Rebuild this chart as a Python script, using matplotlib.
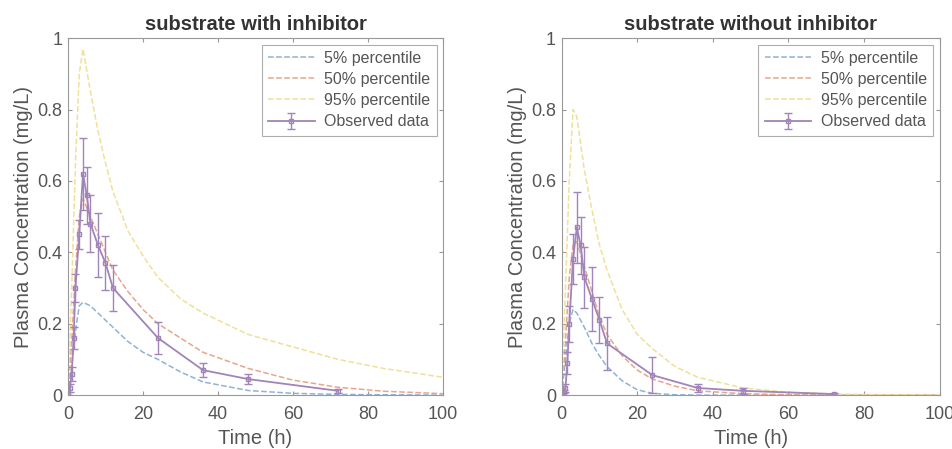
import matplotlib.pyplot as plt

plt.rcParams['font.family'] = ['Liberation Sans', 'DejaVu Sans']

# observed sampling times (h)
obs_t = [0, 0.5, 1, 1.5, 2, 3, 4, 5, 6, 8, 10, 12, 24, 36, 48, 72]

# substrate with inhibitor
inh_obs = [0.0, 0.02, 0.06, 0.16, 0.30, 0.45, 0.62, 0.56, 0.48, 0.42, 0.37, 0.30, 0.16, 0.07, 0.045, 0.012]
inh_sd = [0.0, 0.01, 0.02, 0.03, 0.04, 0.04, 0.10, 0.08, 0.08, 0.09, 0.075, 0.065, 0.045, 0.02, 0.015, 0.005]

# substrate without inhibitor
no_obs = [0.0, 0.01, 0.02, 0.09, 0.20, 0.38, 0.47, 0.42, 0.33, 0.27, 0.21, 0.145, 0.056, 0.02, 0.012, 0.003]
no_sd = [0.0, 0.005, 0.01, 0.03, 0.05, 0.07, 0.10, 0.08, 0.085, 0.09, 0.065, 0.075, 0.05, 0.01, 0.008, 0.002]

# simulated percentiles
sim_t = [0, 1, 2, 3, 4, 6, 8, 10, 12, 16, 20, 24, 30, 36, 48, 60, 72, 84, 100]
inh_p5 = [0, 0.08, 0.18, 0.25, 0.26, 0.25, 0.23, 0.21, 0.19, 0.15, 0.12, 0.10, 0.065, 0.037, 0.013, 0.005, 0.002, 0.001, 0.0]
inh_p50 = [0, 0.15, 0.35, 0.50, 0.55, 0.50, 0.45, 0.40, 0.35, 0.29, 0.24, 0.20, 0.16, 0.12, 0.075, 0.042, 0.022, 0.011, 0.004]
inh_p95 = [0, 0.30, 0.65, 0.90, 0.97, 0.85, 0.74, 0.65, 0.57, 0.46, 0.39, 0.33, 0.27, 0.23, 0.17, 0.135, 0.10, 0.075, 0.05]

no_p5 = [0, 0.10, 0.20, 0.24, 0.23, 0.19, 0.145, 0.11, 0.08, 0.04, 0.015, 0.005, 0.001, 0.0, 0.0, 0.0, 0.0, 0.0, 0.0]
no_p50 = [0, 0.15, 0.33, 0.42, 0.43, 0.36, 0.29, 0.22, 0.17, 0.11, 0.07, 0.045, 0.025, 0.012, 0.004, 0.001, 0.0, 0.0, 0.0]
no_p95 = [0, 0.30, 0.60, 0.80, 0.78, 0.63, 0.52, 0.42, 0.35, 0.24, 0.17, 0.13, 0.08, 0.05, 0.02, 0.008, 0.003, 0.001, 0.0]

titles = ['substrate with inhibitor', 'substrate without inhibitor']

c5 = '#8fb3d6'
c50 = '#e9a58c'
c95 = '#efe09a'
cobs = '#a184b8'
grey = '#555555'

fig = plt.figure(figsize=(9.52, 4.49), dpi=100)
ax1 = fig.add_axes([0.0714, 0.120, 0.394, 0.795])
ax2 = fig.add_axes([0.590, 0.120, 0.397, 0.795])

panels = [
    (ax1, inh_p5, inh_p50, inh_p95, inh_obs, inh_sd),
    (ax2, no_p5, no_p50, no_p95, no_obs, no_sd),
]

for i, (ax, p5, p50, p95, obs, sd) in enumerate(panels):
    ax.plot(sim_t, p5, '--', color=c5, lw=1.1, label='5% percentile')
    ax.plot(sim_t, p50, '--', color=c50, lw=1.1, label='50% percentile')
    ax.plot(sim_t, p95, '--', color=c95, lw=1.1, label='95% percentile')
    ax.errorbar(obs_t, obs, yerr=sd, color=cobs, lw=1.3, elinewidth=1.0,
                capsize=3, marker='s', ms=3, mfc='none', label='Observed data')
    ax.set_xlim(0, 100)
    ax.set_ylim(0, 1)
    ax.set_xticks([0, 20, 40, 60, 80, 100])
    ax.set_yticks([0, 0.2, 0.4, 0.6, 0.8, 1])
    ax.set_yticklabels(['0', '0.2', '0.4', '0.6', '0.8', '1'])
    ax.tick_params(direction='in', top=True, right=True, length=3,
                   labelsize=13, colors='#999999', labelcolor=grey)
    ax.tick_params(axis='x', pad=8)
    ax.tick_params(axis='y', pad=4)
    for s in ax.spines.values():
        s.set_color('#999999')
    ax.set_xlabel('Time (h)', fontsize=14.5, color=grey, labelpad=4)
    ax.set_ylabel('Plasma Concentration (mg/L)', fontsize=14.5, color=grey, labelpad=3)
    ax.set_title(titles[i], fontsize=14.5, fontweight='bold', color='#333333', pad=6)
    leg = ax.legend(loc='upper right', fontsize=11.5, frameon=True, fancybox=False,
                    borderaxespad=0.4, handlelength=2.9, labelspacing=0.38,
                    borderpad=0.4, handletextpad=0.6)
    leg.get_frame().set_edgecolor('#999999')
    leg.get_frame().set_linewidth(0.8)
    for t in leg.get_texts():
        t.set_color(grey)

fig.savefig('out.png', dpi=100)
